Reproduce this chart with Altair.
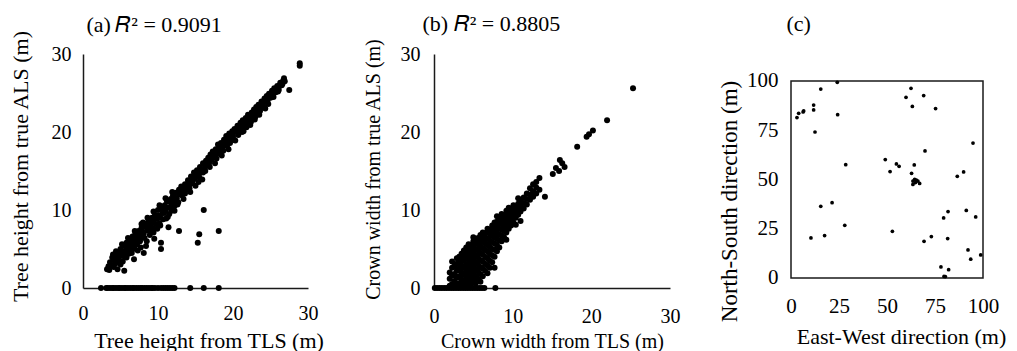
import altair as alt
import pandas as pd

FONT = "Liberation Serif"

# ---------------- (a) tree height ----------------
tls_h = [3.2, 3.4, 3.6, 3.9, 4.0, 4.2, 4.4, 4.6, 4.7, 4.9,
         5.0, 5.2, 5.3, 5.5, 5.5, 5.7, 5.8, 6.0, 6.1, 6.2,
         6.4, 6.8, 6.6, 6.7, 6.8, 7.0, 7.1, 7.2, 7.4, 7.5,
         7.6, 7.8, 7.9, 8.0, 8.1, 8.2, 8.3, 8.4, 8.5, 8.6,
         8.8, 8.9, 9.0, 9.2, 9.3, 9.4, 9.5, 9.6, 9.8, 9.9,
         10.0, 10.1, 10.2, 10.4, 10.4, 10.5, 10.6, 10.7, 10.9, 11.0,
         11.2, 11.3, 11.4, 11.5, 11.7, 11.8, 12.0, 12.1, 12.2, 12.4,
         12.5, 12.6, 12.8, 12.8, 13.0, 13.1, 13.3, 13.4, 13.6, 13.8,
         14.0, 14.1, 14.3, 14.4, 14.6, 14.8, 14.9, 15.0, 15.2, 15.3,
         15.4, 15.5, 15.6, 15.7, 15.9, 16.0, 16.1, 16.2, 16.4, 16.5,
         16.7, 16.8, 17.0, 17.1, 17.3, 17.4, 17.6, 17.7, 17.9, 18.0,
         18.1, 18.2, 18.4, 18.5, 18.6, 18.8, 19.0, 19.1, 19.3, 19.4,
         19.5, 19.7, 19.9, 20.0, 20.2, 20.3, 20.5, 20.6, 20.8, 21.0,
         21.1, 21.3, 21.4, 21.6, 21.7, 21.9, 22.0, 22.2, 22.3, 22.5,
         22.6, 22.8, 22.9, 23.1, 23.2, 23.4, 23.5, 23.7, 23.8, 24.0,
         24.2, 24.3, 24.5, 24.6, 24.8, 25.0, 25.2, 25.3, 25.5, 25.7,
         25.9, 26.1, 26.3, 26.5, 26.7, 26.8, 27.5, 28.9, 28.9,
         4.3, 4.8, 5.1, 5.6, 5.9, 6.3, 6.9, 7.3, 7.7, 8.0,
         8.7, 9.1, 9.7, 10.3, 10.8, 11.1, 11.6, 11.9, 12.3, 12.7,
         13.2, 13.5, 13.9, 14.2, 14.7, 15.1, 15.5, 15.8, 16.3, 16.6,
         16.9, 17.2, 17.5, 17.8, 18.3, 18.7, 18.9, 19.2, 19.6, 19.8,
         20.1, 20.4, 20.7, 20.9, 21.2, 21.5, 21.8, 22.1, 22.4, 22.7,
         23.0, 23.3, 23.6, 23.9, 24.1, 24.4, 24.7, 25.1, 25.4, 25.8,
         26.0, 26.2, 26.6, 26.9,
         3.5, 3.8, 4.1, 4.5, 5.0, 5.4, 5.8, 6.2, 6.5, 7.0,
         7.3, 7.7, 8.1, 8.5, 9.0, 9.4, 9.9, 10.3, 10.8, 11.3,
         11.8, 12.2, 12.7, 13.1, 13.6, 14.0, 14.5, 15.0, 15.4, 16.0,
         4.4, 5.2, 6.0, 6.9, 7.8, 8.6, 9.4, 10.2, 11.0, 11.9]
als_h = [2.4, 2.8, 3.3, 3.9, 4.3, 3.6, 4.2, 2.4, 3.8, 4.5,
         5.0, 4.1, 3.4, 2.2, 5.4, 4.8, 5.8, 5.2, 4.4, 6.2,
         5.7, 3.7, 6.6, 5.0, 6.1, 7.0, 6.4, 5.6, 7.3, 6.8,
         6.0, 7.7, 7.1, 8.4, 4.5, 6.4, 7.9, 5.4, 8.3, 7.4,
         8.7, 6.8, 8.1, 9.0, 7.7, 8.6, 6.3, 9.4, 8.9, 7.6,
         10.0, 9.3, 8.3, 5.8, 5.0, 10.2, 9.6, 8.8, 10.6, 9.9,
         11.1, 10.3, 7.8, 9.5, 11.4, 10.8, 11.9, 11.0, 9.9, 12.2,
         11.5, 10.7, 7.3, 12.6, 12.0, 13.0, 12.4, 11.4, 13.3, 12.8,
         13.8, 13.2, 12.3, 14.3, 13.7, 14.8, 14.0, 13.1, 15.1, 5.8,
         14.5, 6.9, 15.5, 14.9, 13.9, 16.0, 10.0, 15.3, 16.3, 15.8,
         16.7, 16.0, 17.1, 16.4, 17.5, 16.9, 16.0, 17.8, 17.2, 18.4,
         7.3, 17.6, 18.6, 17.0, 18.1, 19.0, 18.4, 19.5, 18.9, 17.8,
         19.8, 19.2, 20.1, 19.5, 20.4, 18.9, 20.0, 20.8, 20.3, 21.2,
         20.6, 21.5, 20.1, 21.0, 21.8, 21.3, 22.2, 21.7, 20.9, 22.5,
         22.0, 22.9, 21.6, 23.2, 22.6, 23.5, 22.2, 23.1, 23.9, 23.4,
         24.3, 23.0, 24.6, 24.0, 24.9, 24.4, 25.3, 24.8, 25.6, 25.1,
         25.9, 25.4, 26.3, 26.0, 26.6, 26.9, 25.4, 28.8, 28.5,
         3.1, 3.3, 4.6, 4.0, 5.1, 4.9, 5.4, 6.6, 5.2, 7.2,
         8.0, 7.2, 8.2, 9.0, 10.1, 8.9, 10.4, 11.3, 10.9, 12.1,
         11.9, 12.7, 13.3, 12.8, 14.1, 14.3, 14.2, 15.2, 15.0, 16.2,
         15.5, 16.9, 17.2, 16.6, 17.9, 17.6, 18.6, 18.2, 18.6, 19.6,
         19.0, 20.1, 19.6, 20.7, 20.0, 21.2, 20.6, 21.9, 21.3, 22.4,
         22.0, 23.1, 22.7, 23.3, 23.8, 24.1, 23.6, 24.9, 24.5, 25.5,
         25.2, 25.9, 26.2, 26.5,
         2.3, 2.9, 2.7, 3.4, 3.0, 4.4, 3.9, 5.4, 4.5, 5.9,
         4.8, 6.4, 7.0, 6.0, 7.6, 7.1, 8.9, 8.0, 9.6, 9.1,
         9.9, 10.5, 11.0, 12.3, 12.1, 12.6, 13.4, 14.5, 13.6, 14.8,
         4.7, 5.6, 6.4, 7.3, 8.2, 9.0, 9.8, 10.6, 11.5, 12.3]
# trees with TLS height but no ALS detection (ALS = 0)
a_zero_tls = [2.4, 3.1, 3.3, 3.6, 3.9, 4.1, 4.4, 4.7, 4.9, 5.2, 5.5, 5.7,
              6.0, 6.3, 6.6, 6.8, 7.1, 7.4, 7.7, 7.9, 8.2, 8.5, 8.8, 9.1,
              9.3, 9.6, 10.0, 10.4, 10.7, 11.0, 11.3, 11.6, 11.9, 12.2,
              14.3, 16.1, 18.1]

# ---------------- (b) crown width ----------------
# (TLS crown width, [ALS crown widths]) read column by column
cw_columns = [
    (2.0, [0.3, 1.2, 2.0]),
    (2.3, [0.5, 1.6, 2.6, 3.4]),
    (2.6, [0.2, 0.9, 1.8, 2.8]),
    (2.9, [0.4, 1.3, 2.2, 3.1, 3.8]),
    (3.2, [0.6, 1.5, 2.5, 3.4, 4.0]),
    (3.5, [0.3, 1.1, 2.0, 2.9, 3.7, 4.4]),
    (3.8, [0.8, 1.7, 2.6, 3.5, 4.2, 4.8]),
    (4.1, [0.4, 1.3, 2.2, 3.0, 3.9, 4.7, 5.2]),
    (4.4, [0.9, 1.8, 2.7, 3.6, 4.4, 5.0, 5.6]),
    (4.7, [0.5, 1.4, 2.3, 3.2, 4.1, 4.9, 5.5]),
    (5.0, [1.0, 1.9, 2.8, 3.7, 4.5, 5.3, 6.0, 6.5]),
    (5.3, [0.6, 1.5, 2.4, 3.3, 4.2, 5.0, 5.7, 6.2]),
    (5.6, [1.2, 2.1, 3.0, 3.9, 4.8, 5.6, 6.4]),
    (5.9, [0.8, 1.8, 2.7, 3.6, 4.5, 5.3, 6.1, 6.8]),
    (6.2, [1.5, 2.5, 3.4, 4.3, 5.1, 5.9, 6.6, 7.1]),
    (6.5, [2.2, 3.1, 4.0, 4.9, 5.7, 6.4, 7.0]),
    (6.8, [1.9, 2.9, 3.8, 4.7, 5.5, 6.3, 7.2, 7.6]),
    (7.1, [2.6, 3.5, 4.4, 5.3, 6.1, 6.9, 7.5]),
    (7.4, [3.3, 4.2, 5.0, 5.9, 6.7, 7.4, 8.0]),
    (7.7, [2.6, 4.0, 4.9, 5.7, 6.5, 7.2, 7.9, 8.4]),
    (8.0, [4.7, 5.5, 6.3, 7.0, 7.8, 8.5, 9.2]),
    (8.3, [5.2, 6.1, 6.9, 7.6, 8.3, 9.0]),
    (8.6, [6.0, 6.7, 7.5, 8.2, 8.9, 9.5]),
    (8.9, [6.5, 7.3, 8.0, 8.7, 9.3]),
    (9.2, [6.2, 7.1, 7.8, 8.5, 9.2, 9.9]),
    (9.5, [7.6, 8.3, 9.0, 9.7, 10.3]),
    (9.8, [8.0, 8.8, 9.5, 10.1]),
    (10.1, [8.4, 9.2, 9.9, 10.6]),
    (10.4, [8.1, 9.0, 9.7, 10.4]),
    (10.7, [9.4, 10.1, 10.8, 11.5]),
    (11.0, [8.6, 9.8, 10.5, 11.2]),
    (11.4, [10.2, 10.9, 11.6]),
    (11.8, [10.7, 11.4, 12.1]),
    (12.2, [11.3, 12.0, 12.8]),
    (12.6, [11.7, 12.4, 13.3]),
    (13.0, [12.1, 12.9, 13.6]),
    (13.4, [12.6, 14.1]),
    (14.1, [11.7]),
]
cw_sparse_tls = [15.1, 15.5, 15.9, 16.0, 16.3, 16.6, 18.2, 19.4, 19.7, 20.2, 22.0, 25.3]
cw_sparse_als = [14.6, 15.4, 15.0, 16.4, 16.0, 15.5, 18.1, 19.4, 19.7, 20.2, 21.5, 25.6]
b_zero_tls = [0.1, 0.4, 0.7, 1.0, 1.3, 1.6, 1.9, 2.2, 2.5, 2.8, 3.1, 3.4,
              3.7, 4.0, 4.3, 4.6, 4.9, 5.2, 5.5, 5.8, 6.1, 6.4, 7.8]

# ---------------- (c) tree positions ----------------
east_west = [3.1, 4.0, 6.3, 6.6, 11.8, 11.8, 12.5, 15.5, 24.1, 24.3,
             28.5, 15.5, 21.4, 10.4, 17.5, 28.0, 49.1, 51.6, 54.9, 56.3,
             52.8, 62.5, 59.9, 63.2, 69.1, 75.3, 69.8, 64.2, 62.8, 63.5,
             64.4, 65.3, 66.1, 67.0, 63.5, 64.8, 94.8, 86.6, 89.9, 79.5,
             81.8, 91.3, 96.2, 69.3, 73.1, 81.6, 92.2, 93.6, 98.8, 78.1,
             82.1, 79.7, 80.4]
north_south = [81.4, 83.6, 84.3, 84.8, 87.8, 85.3, 74.1, 95.9, 99.3, 82.9,
               57.5, 36.4, 38.2, 20.3, 21.5, 26.7, 60.1, 54.0, 57.9, 56.7,
               23.7, 96.3, 91.7, 87.1, 92.6, 86.0, 64.5, 57.4, 53.1, 49.2,
               50.1, 49.7, 49.2, 48.0, 47.5, 48.4, 68.5, 51.6, 53.8, 30.5,
               33.7, 34.3, 31.0, 18.6, 21.0, 20.0, 14.2, 9.5, 11.7, 5.6,
               4.2, 0.8, 0.7]
plot_extent = [0, 100]          # the square study plot (m)
ns_view = [-5.1, 113.7]         # vertical view range around the plot square

# ---------------- tables ----------------
df_a = pd.DataFrame({"tls": tls_h + a_zero_tls,
                     "als": als_h + [0.0] * len(a_zero_tls)})

b_tls, b_als = [], []
for xv, ys in cw_columns:
    for yv in ys:
        b_tls.append(xv)
        b_als.append(yv)
b_tls += cw_sparse_tls + b_zero_tls
b_als += cw_sparse_als + [0.0] * len(b_zero_tls)
df_b = pd.DataFrame({"tls": b_tls, "als": b_als})

df_c = pd.DataFrame({"ew": east_west, "ns": north_south})
df_frame = pd.DataFrame({"lo": [plot_extent[0]], "hi": [plot_extent[1]]})


def axis(title, values, label_size, title_size, label_pad, tx, ty, baseline,
         orient, domain=True):
    return alt.Axis(
        orient=orient, title=title, values=values, grid=False, ticks=False,
        tickSize=0, domain=domain, domainColor="#1a1a1a", domainWidth=1.5,
        labelFont=FONT, labelFontSize=label_size, labelColor="black",
        labelPadding=label_pad, labelOverlap=False, labelFlush=False,
        titleFont=FONT, titleFontSize=title_size, titleFontWeight="normal",
        titleColor="black", titleX=tx, titleY=ty, titleBaseline=baseline,
        titleAlign="center",
    )


def top_title(text, tx, ty):
    return alt.Axis(
        orient="top", title=text, labels=False, ticks=False, domain=False,
        grid=False, titleFont=FONT, titleFontSize=22, titleFontWeight="normal",
        titleColor="black", titleX=tx, titleY=ty, titleAlign="left",
        titleBaseline="alphabetic", titleAngle=0,
    )


sc30 = alt.Scale(domain=[0, 30], nice=False, zero=False)

# ---- (a)
y_axis_a = axis("Tree height from true ALS (m)", [0, 10, 20, 30], 20, 22, 12,
                -63, 112, "middle", "left")
pts_a = alt.Chart(df_a).mark_circle(color="black", opacity=1, size=36).encode(
    x=alt.X("tls:Q", scale=sc30,
            axis=axis("Tree height from TLS (m)", [0, 10, 20, 30], 20, 22, 15,
                      125.5, 59, "alphabetic", "bottom")),
    y=alt.Y("als:Q", scale=sc30, axis=y_axis_a),
)
ttl_a = alt.Chart(pd.DataFrame({"tls": [0.0], "als": [0.0]})).mark_point(opacity=0).encode(
    x=alt.X("tls:Q", scale=sc30,
            axis=top_title("(a)\u2009\U0001D445² = 0.9091", 3, -23)),
    y=alt.Y("als:Q", scale=sc30, axis=y_axis_a),
)
chart_a = alt.layer(pts_a, ttl_a).resolve_axis(x="independent").properties(
    width=225, height=234)

# ---- (b)
y_axis_b = axis("Crown width from true ALS (m)", [0, 10, 20, 30], 20, 20, 14,
                -61, 115, "middle", "left")
pts_b = alt.Chart(df_b).mark_circle(color="black", opacity=1, size=36).encode(
    x=alt.X("tls:Q", scale=sc30,
            axis=axis("Crown width from TLS (m)", [0, 10, 20, 30], 20, 20, 18,
                      118, 59, "alphabetic", "bottom")),
    y=alt.Y("als:Q", scale=sc30, axis=y_axis_b),
)
ttl_b = alt.Chart(pd.DataFrame({"tls": [0.0], "als": [0.0]})).mark_point(opacity=0).encode(
    x=alt.X("tls:Q", scale=sc30,
            axis=top_title("(b) \U0001D445² = 0.8805", -12, -24)),
    y=alt.Y("als:Q", scale=sc30, axis=y_axis_b),
)
chart_b = alt.layer(pts_b, ttl_b).resolve_axis(x="independent").properties(
    width=236, height=234)

# ---- (c)
sc_ew = alt.Scale(domain=plot_extent, nice=False, zero=False)
sc_ns = alt.Scale(domain=ns_view, nice=False, zero=False)
y_axis_c = axis("North-South direction (m)", [0, 25, 50, 75, 100], 21, 23, 13,
                -62, 147, "middle", "left", domain=False)
frame_c = alt.Chart(df_frame).mark_rect(
    fillOpacity=0, stroke="#1a1a1a", strokeWidth=1.5
).encode(
    x=alt.X("lo:Q", scale=sc_ew, axis=top_title("(c)", -5, -24)),
    x2="hi:Q",
    y=alt.Y("lo:Q", scale=sc_ns, axis=y_axis_c),
    y2="hi:Q",
)
pts_c = alt.Chart(df_c).mark_circle(color="black", opacity=1, size=14).encode(
    x=alt.X("ew:Q", scale=sc_ew,
            axis=axis("East-West direction (m)", [0, 25, 50, 75, 100], 21, 22, 7,
                      110, 55, "alphabetic", "bottom", domain=False)),
    y=alt.Y("ns:Q", scale=sc_ns, axis=y_axis_c),
)
chart_c = alt.layer(frame_c, pts_c).resolve_axis(x="independent").properties(
    width=192, height=234)

chart = alt.hconcat(chart_a, chart_b, chart_c, spacing=38).properties(
    padding={"left": 0, "top": 4, "right": 0, "bottom": 0},
    background="white",
).configure_view(strokeWidth=0)

chart.save("out.html", embed_options={"renderer": "svg", "actions": False})
